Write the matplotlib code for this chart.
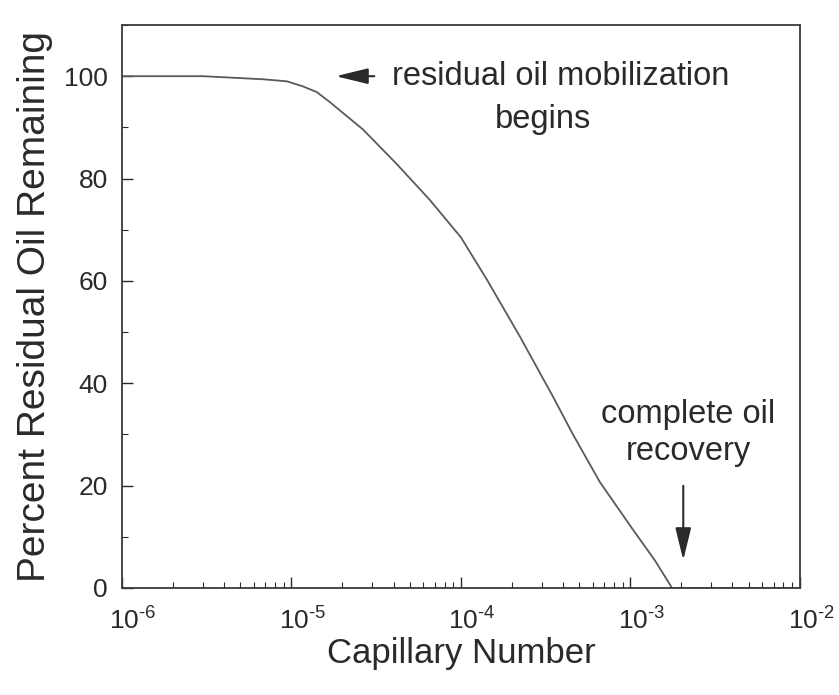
import matplotlib
matplotlib.use('Agg')
import matplotlib.pyplot as plt
import matplotlib.transforms as mtransforms
from matplotlib.ticker import LogLocator, MultipleLocator

plt.rcParams['font.family'] = ['Liberation Sans', 'DejaVu Sans']
plt.rcParams['mathtext.fontset'] = 'custom'
plt.rcParams['mathtext.rm'] = 'Liberation Sans'
plt.rcParams['mathtext.it'] = 'Liberation Sans'
plt.rcParams['mathtext.bf'] = 'Liberation Sans'

# values
cap_number = [1.0e-6, 3.0e-6, 6.8e-6, 9.4e-6, 1.17e-5, 1.41e-5, 1.69e-5, 2.12e-5,
              2.64e-5, 4.19e-5, 6.56e-5, 1.0e-4, 1.42e-4, 2.23e-4, 3.49e-4,
              4.58e-4, 6.6e-4, 1.0e-3, 1.4e-3, 1.76e-3, 1.0e-2]
oil_remaining = [100, 100, 99.4, 99.0, 98.0, 96.9, 94.9, 92.2,
                 89.6, 82.8, 75.8, 68.5, 60.3, 49.1, 37.4,
                 30.0, 20.7, 12.1, 5.3, 0, 0]

y_ticks = [0, 20, 40, 60, 80, 100]
x_ticks = [1e-6, 1e-5, 1e-4, 1e-3, 1e-2]
x_labels = [r'$10^{\text{-}6}$', r'$10^{\text{-}5}$', r'$10^{\text{-}4}$',
            r'$10^{\text{-}3}$', r'$10^{\text{-}2}$']

mobil_x, mobil_y = 1.76e-5, 100
recov_x, recov_y = 2.05e-3, 4.9

ink = '#2a2a2a'

fig = plt.figure(figsize=(8.39, 6.95), dpi=100)
ax = fig.add_axes([0.1454, 0.154, 0.808, 0.81])

ax.plot(cap_number, oil_remaining, color='#5a5a5a', lw=1.3)

ax.set_xscale('log')
ax.set_xlim(1e-6, 1e-2)
ax.set_ylim(0, 110)
ax.set_xticks(x_ticks)
ax.set_xticklabels(x_labels)
ax.set_yticks(y_ticks)
ax.xaxis.set_minor_locator(LogLocator(base=10, subs=range(2, 10)))
ax.yaxis.set_minor_locator(MultipleLocator(10))

ax.tick_params(which='both', direction='in', colors=ink,
               top=False, right=False)
ax.tick_params(axis='y', labelsize=19)
ax.tick_params(axis='x', labelsize=19)
ax.tick_params(which='major', length=8, width=1.0)
ax.tick_params(axis='y', which='major', pad=10)
ax.tick_params(axis='x', which='major', pad=14)
ax.tick_params(which='minor', length=4, width=0.8)

# the "10" sits on the tick, superscript hangs to the right
shift = mtransforms.ScaledTranslation(8 / 72, 0, fig.dpi_scale_trans)
for lbl in ax.get_xticklabels():
    lbl.set_transform(lbl.get_transform() + shift)

for s in ax.spines.values():
    s.set_color('#3a3a3a')
    s.set_linewidth(1.3)

ax.set_xlabel('Capillary Number', fontsize=25, color=ink, labelpad=2)
ax.set_ylabel('Percent Residual Oil Remaining', fontsize=28, color=ink, labelpad=8)

arrow = dict(arrowstyle='-|>,head_length=0.9,head_width=0.22', color=ink,
             lw=1.5, mutation_scale=22)
ax.annotate('', xy=(mobil_x, mobil_y), xytext=(3.2e-5, mobil_y), arrowprops=arrow)
ax.text(3.9e-5, 100, 'residual oil mobilization', fontsize=23.5, color=ink,
        ha='left', va='center')
ax.text(3.05e-4, 91.5, 'begins', fontsize=23.5, color=ink, ha='center', va='center')

ax.annotate('', xy=(recov_x, recov_y), xytext=(recov_x, 20.5), arrowprops=arrow)
ax.text(2.2e-3, 33.8, 'complete oil', fontsize=23.5, color=ink, ha='center', va='center')
ax.text(2.2e-3, 26.6, 'recovery', fontsize=23.5, color=ink, ha='center', va='center')

fig.savefig('out.png', dpi=100)
